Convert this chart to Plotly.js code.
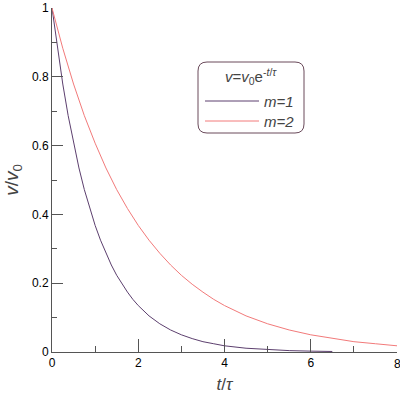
<!DOCTYPE html>
<html><head><meta charset="utf-8">
<script src="https://cdn.plot.ly/plotly-3.0.1.min.js"></script>
<style>body{margin:0;background:#fff}#c{width:400px;height:394px}</style>
</head><body><div id="c"></div>
<script>
const names = ["m=1", "m=2"];
const t1 = [0,0.125,0.25,0.375,0.5,0.625,0.75,0.875,1,1.125,1.25,1.375,1.5,1.625,1.75,1.875,2,2.25,2.5,2.75,3,3.25,3.5,3.75,4,4.5,5,5.5,6,6.5];
const v1 = [1,0.883,0.779,0.687,0.607,0.535,0.472,0.417,0.368,0.325,0.287,0.253,0.223,0.197,0.174,0.153,0.135,0.105,0.082,0.064,0.05,0.039,0.03,0.024,0.018,0.011,0.007,0.004,0.0025,0.0015];
const t2 = [0,0.25,0.5,0.75,1,1.25,1.5,1.75,2,2.25,2.5,2.75,3,3.25,3.5,3.75,4,4.5,5,5.5,6,6.5,7,7.5,8];
const v2 = [1,0.883,0.779,0.687,0.607,0.535,0.472,0.417,0.368,0.325,0.287,0.253,0.223,0.197,0.174,0.153,0.135,0.105,0.082,0.064,0.05,0.039,0.03,0.024,0.018];
const xTicks = [0,2,4,6,8];
const yTicks = [0,0.2,0.4,0.6,0.8,1];
const colors = ["#5c3f6e", "#f27a7a"];
const FONT = "Liberation Sans, Arial";

const traces = [
  {x:t1, y:v1, name:names[0], mode:"lines", line:{color:colors[0], width:1}},
  {x:t2, y:v2, name:names[1], mode:"lines", line:{color:colors[1], width:1}}
];
const axisCommon = {showgrid:false, zeroline:false, showline:true, linecolor:"#555", linewidth:1,
  ticks:"inside", tickcolor:"#555", tickfont:{family:FONT, size:12, color:"#000"}};
const ML=52, MR=3, MT=8, MB=42, W=400, H=394;
const PW=W-ML-MR, PH=H-MT-MB;
const px=(x)=>(x-ML)/PW, py=(y)=>(H-MB-y)/PH;
const L=198, R=304, T=62, B=133, r=9;
const path = `M ${px(L+r)} ${py(T)} L ${px(R-r)} ${py(T)} Q ${px(R)} ${py(T)} ${px(R)} ${py(T+r)} L ${px(R)} ${py(B-r)} Q ${px(R)} ${py(B)} ${px(R-r)} ${py(B)} L ${px(L+r)} ${py(B)} Q ${px(L)} ${py(B)} ${px(L)} ${py(B-r)} L ${px(L)} ${py(T+r)} Q ${px(L)} ${py(T)} ${px(L+r)} ${py(T)} Z`;
const layout = {
  width:W, height:H, margin:{l:ML, r:MR, t:MT, b:MB},
  paper_bgcolor:"#fff", plot_bgcolor:"#fff", showlegend:false,
  xaxis:Object.assign({}, axisCommon, {range:[0,8], tickvals:xTicks.slice(0,-1), ticklen:13,
    minor:{ticks:"inside", tickvals:[1,3,5,7,8], ticklen:6, tickcolor:"#555"},
    title:{text:"<i>t</i>/<i>τ</i>", font:{family:FONT, size:17}, standoff:8}}),
  yaxis:Object.assign({}, axisCommon, {range:[0,1], tickvals:yTicks, ticklen:11,
    minor:{ticks:"inside", dtick:0.1, ticklen:5, tickcolor:"#555"},
    title:{text:"<i>v</i>/<i>v</i><sub>0</sub>", font:{family:FONT, size:19}, standoff:8}}),
  shapes:[
    {type:"path", xref:"paper", yref:"paper", path:path, line:{color:"#6a4a5a", width:1}, fillcolor:"rgba(0,0,0,0)"},
    {type:"line", xref:"paper", yref:"paper", x0:px(205), x1:px(259), y0:py(101), y1:py(101), line:{color:colors[0], width:1}},
    {type:"line", xref:"paper", yref:"paper", x0:px(205), x1:px(259), y0:py(121), y1:py(121), line:{color:colors[1], width:1}}
  ],
  annotations:[
    {xref:"paper", yref:"paper", x:px(251), y:py(76), text:"<i>v</i>=<i>v</i><sub>0</sub>e<sup>-<i>t</i>/<i>τ</i></sup>", showarrow:false, font:{family:FONT, size:15}, xanchor:"center", yanchor:"middle"},
    {xref:"paper", yref:"paper", x:px(262), y:py(101), text:"<i>"+names[0]+"</i>", showarrow:false, font:{family:FONT, size:15}, xanchor:"left", yanchor:"middle"},
    {xref:"paper", yref:"paper", x:px(262), y:py(121), text:"<i>"+names[1]+"</i>", showarrow:false, font:{family:FONT, size:15}, xanchor:"left", yanchor:"middle"},
    {xref:"x", yref:"paper", x:xTicks[xTicks.length-1], y:0, yshift:-3, text:String(xTicks[xTicks.length-1]), showarrow:false, font:{family:FONT, size:12, color:"#000"}, xanchor:"center", yanchor:"top"}
  ]
};
Plotly.newPlot("c", traces, layout, {displayModeBar:false, staticPlot:true});
</script></body></html>
